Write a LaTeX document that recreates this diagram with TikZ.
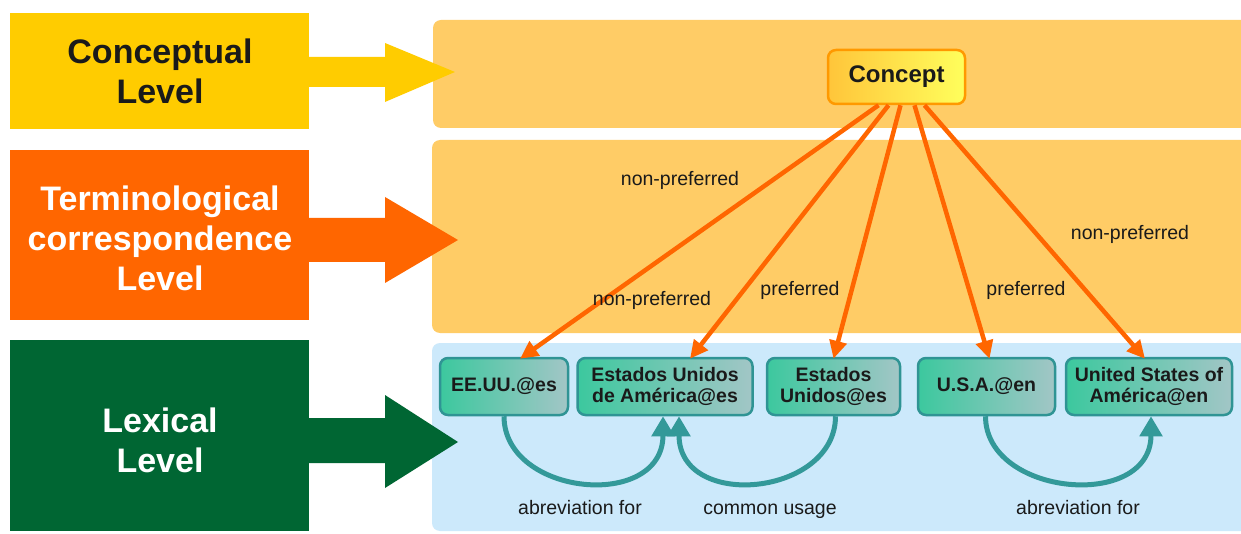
\documentclass[tikz,border=0pt]{standalone}
\usepackage{fontspec}
\setmainfont{Liberation Sans}
\usetikzlibrary{arrows.meta}
\definecolor{lvyellow}{HTML}{FFCC00}
\definecolor{lvorange}{HTML}{FF6600}
\definecolor{lvgreen}{HTML}{006633}
\definecolor{panelorange}{HTML}{FFCC66}
\definecolor{panelblue}{HTML}{CCE9FB}
\definecolor{termfillA}{HTML}{3CC89E}
\definecolor{termfillB}{HTML}{A2C6C6}
\definecolor{termedge}{HTML}{2F9494}
\definecolor{relarrow}{HTML}{339999}
\definecolor{conceptedge}{HTML}{FF9900}
\definecolor{conceptA}{HTML}{FFC53A}
\definecolor{conceptB}{HTML}{FFFF5C}
\definecolor{txtdark}{HTML}{1A1A1A}
\tikzset{
  leveltext/.style={align=center, font=\fontsize{34}{40}\selectfont\bfseries},
  panel/.style={rounded corners=8pt, inner sep=0pt},
  term/.style={draw=termedge, line width=2.5pt, rounded corners=8pt,
    left color=termfillA, right color=termfillB, align=center,
    font=\fontsize{19.5}{21}\selectfont\bfseries, text=txtdark,
    minimum height=57pt, inner sep=0pt},
  conceptnode/.style={draw=conceptedge, line width=2.5pt, rounded corners=8pt,
    left color=conceptA, right color=conceptB,
    font=\fontsize{24}{26}\selectfont\bfseries, text=txtdark,
    minimum width=137pt, minimum height=54pt},
  link/.style={draw=lvorange, line width=4.5pt,
    -{Triangle[length=18pt,width=17pt]}},
  rel/.style={draw=relarrow, line width=5pt,
    -{Triangle[length=20pt,width=22pt]}},
  lbl/.style={font=\fontsize{19.5}{21}\selectfont, text=txtdark}
}
\begin{document}
\begin{tikzpicture}[x=1pt,y=-1pt]
\useasboundingbox (0,0) rectangle (1241,534);
\fill[white] (0,0) rectangle (1241,534);

% right-hand panels
\fill[panelorange, panel] (433,20) rectangle (1252,128);
\fill[panelorange, panel] (432,140) rectangle (1252,333);
\fill[panelblue, panel] (432,343) rectangle (1252,531);

% level blocks with their arrows
\fill[lvyellow] (10,13) rectangle (309,129);
\fill[lvyellow] (305,57) -- (385,57) -- (385,43) -- (455,72) -- (385,102) -- (385,87) -- (305,87) -- cycle;
\node[leveltext, text=txtdark] (conc) at (160,71) {Conceptual\\Level};

\fill[lvorange] (10,150) rectangle (309,320);
\fill[lvorange] (305,218) -- (385,218) -- (385,197) -- (458,240) -- (385,283) -- (385,262) -- (305,262) -- cycle;
\node[leveltext, text=white] (termlv) at (160,238) {Terminological\\correspondence\\Level};

\fill[lvgreen] (10,340) rectangle (309,531);
\fill[lvgreen] (305,418) -- (385,418) -- (385,395) -- (458,442) -- (385,488) -- (385,463) -- (305,463) -- cycle;
\node[leveltext, text=white] (lexlv) at (160,440) {Lexical\\Level};

% concept
\node[conceptnode] (concept) at (896.5,77) {Concept};

% terms
\node[term, minimum width=128pt] (eeuu) at (504,386.5) {EE.UU.@es};
\node[term, minimum width=175pt] (eua) at (665,386.5) {Estados Unidos\\de América@es};
\node[term, minimum width=133pt] (eu) at (833.5,386.5) {Estados\\Unidos@es};
\node[term, minimum width=137pt] (usa) at (986.5,386.5) {U.S.A.@en};
\node[term, minimum width=166pt] (usoa) at (1149,386.5) {United States of\\América@en};

% concept-to-term links
\draw[link] ([xshift=-18pt]concept.south) -- ([xshift=16pt,yshift=-2pt]eeuu.north);
\draw[link] ([xshift=-8pt]concept.south) -- ([xshift=25pt,yshift=-2pt]eua.north);
\draw[link] ([xshift=4pt]concept.south) -- ([yshift=-2pt]eu.north);
\draw[link] ([xshift=18pt]concept.south) -- ([xshift=3pt,yshift=-2pt]usa.north);
\draw[link] ([xshift=28pt]concept.south) -- ([xshift=-4pt,yshift=-2pt]usoa.north);

\node[lbl] (l1) at (680,180) {non-preferred};
\node[lbl] (l2) at (652,300) {non-preferred};
\node[lbl] (l3) at (800,290) {preferred};
\node[lbl] (l4) at (1026,290) {preferred};
\node[lbl] (l5) at (1130,234) {non-preferred};

% relations between terms
\draw[rel] (eeuu.south) .. controls +(0,80) and +(0,95) .. ([xshift=-2pt]eua.south);
\draw[rel] ([xshift=2pt]eu.south) .. controls +(0,80) and +(0,95) .. ([xshift=14pt]eua.south);
\draw[rel] ([xshift=-1pt]usa.south) .. controls +(0,80) and +(0,95) .. ([xshift=2pt]usoa.south);

\node[lbl, anchor=base] (r1) at (580,514) {abreviation for};
\node[lbl, anchor=base] (r2) at (770,514) {common usage};
\node[lbl, anchor=base] (r3) at (1078,514) {abreviation for};
\end{tikzpicture}
\end{document}
